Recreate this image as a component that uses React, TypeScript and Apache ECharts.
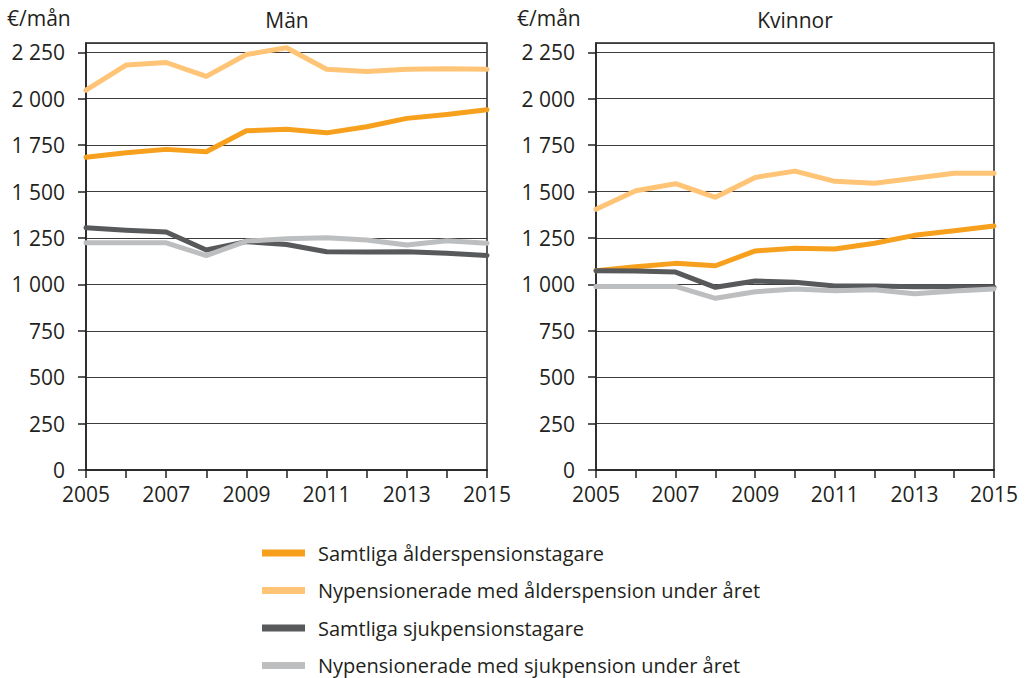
import React, { useEffect, useRef } from "react";
import * as echarts from "echarts";

const years = ["2005", "2006", "2007", "2008", "2009", "2010", "2011", "2012", "2013", "2014", "2015"];
const seriesNames = [
  "Samtliga ålderspensionstagare",
  "Nypensionerade med ålderspension under året",
  "Samtliga sjukpensionstagare",
  "Nypensionerade med sjukpension under året",
];
const colors = ["#F6A01E", "#FFC476", "#58595B", "#BDBEC0"];

// Män
const menAll = [1685, 1709, 1727, 1714, 1827, 1836, 1816, 1849, 1894, 1915, 1940];
const menNewOld = [2046, 2181, 2195, 2120, 2238, 2274, 2159, 2147, 2159, 2161, 2158];
const menSick = [1305, 1292, 1282, 1185, 1230, 1215, 1176, 1174, 1176, 1167, 1156];
const menNewSick = [1224, 1224, 1224, 1155, 1233, 1246, 1251, 1239, 1212, 1235, 1221];

// Kvinnor
const womenAll = [1073, 1095, 1113, 1100, 1180, 1194, 1190, 1221, 1264, 1289, 1314];
const womenNewOld = [1405, 1504, 1542, 1469, 1576, 1610, 1555, 1544, 1571, 1598, 1598];
const womenSick = [1073, 1072, 1066, 984, 1018, 1011, 991, 991, 987, 987, 985];
const womenNewSick = [989, 989, 989, 925, 960, 975, 966, 971, 949, 964, 975];

const panelTitles = ["Män", "Kvinnor"];
const unitLabel = "€/mån";

const FONT = "'Open Sans', sans-serif";
const TEXT = "#231F20";

function fmt(v: number) {
  if (v > 2250) return "";
  const s = String(v);
  return s.length > 3 ? s.slice(0, s.length - 3) + " " + s.slice(-3) : s;
}

export default function App() {
  const ref = useRef<HTMLDivElement>(null);
  useEffect(() => {
    if (!ref.current) return;
    const chart = echarts.init(ref.current, undefined, { renderer: "svg" });
    const grids = [
      { left: 86, right: 547, top: 43, bottom: 208 },
      { left: 596, right: 40, top: 43, bottom: 208 },
    ];
    const xAxis = grids.map((_, i) => ({
      type: "category" as const,
      gridIndex: i,
      data: years,
      boundaryGap: false,
      axisLine: { show: true, lineStyle: { color: "#222", width: 1.5 } },
      axisTick: { show: true, interval: 0, length: 8, lineStyle: { color: "#222", width: 1.5 } },
      axisLabel: { interval: 1, color: TEXT, fontSize: 21, fontFamily: FONT, margin: 13 },
      splitLine: { show: false },
    }));
    const yAxis = grids.map((_, i) => ({
      type: "value" as const,
      gridIndex: i,
      min: 0,
      max: 2300,
      interval: 250,
      axisLine: { show: true, lineStyle: { color: "#222", width: 1.5 } },
      axisTick: { show: true, length: 8, lineStyle: { color: "#222", width: 1.5 } },
      axisLabel: { color: TEXT, fontSize: 21, fontFamily: FONT, margin: 21, formatter: fmt, showMaxLabel: false },
      splitLine: { show: true, lineStyle: { color: "#3c3c3c", width: 1 } },
    }));
    const data = [
      [menAll, menNewOld, menSick, menNewSick],
      [womenAll, womenNewOld, womenSick, womenNewSick],
    ];
    const series: any[] = [];
    data.forEach((set, gi) => {
      set.forEach((vals, si) => {
        series.push({
          type: "line",
          name: seriesNames[si],
          xAxisIndex: gi,
          yAxisIndex: gi,
          data: vals,
          showSymbol: false,
          symbol: "none",
          lineStyle: { color: colors[si], width: 5, join: "round", cap: "round" },
          itemStyle: { color: colors[si] },
          z: 3 + si,
        });
      });
    });
    const legend = seriesNames.map((name, i) => ({
      orient: "horizontal",
      left: 262,
      top: 541 + i * 37.5,
      padding: 0,
      itemWidth: 43,
      itemHeight: 7,
      icon: "rect",
      data: [name],
      textStyle: { color: TEXT, fontSize: 20, fontFamily: FONT, lineHeight: 24, padding: [0, 0, 0, 8] },
      selectedMode: false,
    }));
    chart.setOption({
      animation: false,
      textStyle: { fontFamily: FONT },
      grid: grids.map((g) => ({ ...g, show: true, borderColor: "#222", borderWidth: 1.5, backgroundColor: "transparent" })),
      xAxis,
      yAxis,
      series,
      legend,
      graphic: [
        { type: "text", left: 7, top: 7, style: { text: unitLabel, fontSize: 21, fontFamily: FONT, fill: TEXT } },
        { type: "text", left: 517, top: 7, style: { text: unitLabel, fontSize: 21, fontFamily: FONT, fill: TEXT } },
        { type: "text", x: 287, y: 20, style: { text: panelTitles[0], fontSize: 21, fontFamily: FONT, fill: TEXT, align: "center", verticalAlign: "middle" } },
        { type: "text", x: 795, y: 20, style: { text: panelTitles[1], fontSize: 21, fontFamily: FONT, fill: TEXT, align: "center", verticalAlign: "middle" } },
      ],
    });
    return () => chart.dispose();
  }, []);
  return <div ref={ref} style={{ width: 1034, height: 678, position: "absolute", left: 0, top: 0 }} />;
}
